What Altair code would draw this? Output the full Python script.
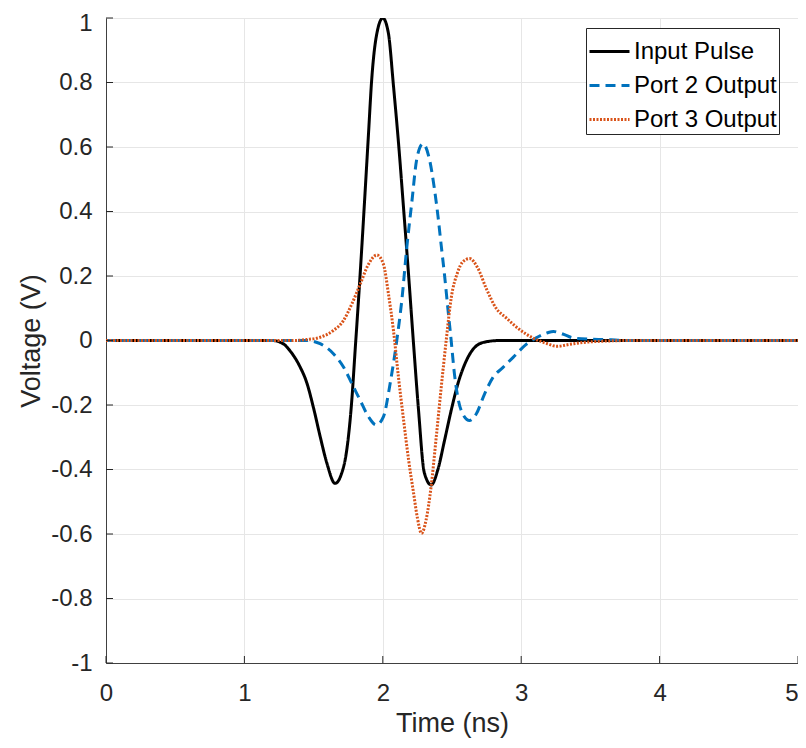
import altair as alt
import pandas as pd

series_names = ["Input Pulse", "Port 2 Output", "Port 3 Output"]

t_input = [0, 1.2, 1.28, 1.335, 1.40, 1.45, 1.50, 1.547, 1.595, 1.655, 1.704, 1.74, 1.776,
           1.80, 1.824, 1.848, 1.872, 1.896, 1.92, 1.952, 2.0, 2.04, 2.077, 2.113, 2.15,
           2.186, 2.222, 2.258, 2.30, 2.35, 2.398, 2.446, 2.494, 2.542, 2.602, 2.675,
           2.747, 2.843, 5]
v_input = [0, 0, -0.01, -0.035, -0.08, -0.13, -0.21, -0.297, -0.379, -0.443, -0.41, -0.338,
           -0.185, -0.031, 0.123, 0.287, 0.46, 0.636, 0.81, 0.94, 1.0, 0.954, 0.79, 0.615,
           0.41, 0.205, -0.01, -0.215, -0.41, -0.448, -0.40, -0.31, -0.217, -0.135, -0.064,
           -0.017, -0.004, 0, 0]

t_port2 = [0, 1.45, 1.547, 1.643, 1.716, 1.776, 1.836, 1.896, 1.952, 2.005, 2.053, 2.101,
           2.137, 2.173, 2.21, 2.246, 2.29, 2.337, 2.373, 2.398, 2.422, 2.446, 2.47, 2.494,
           2.518, 2.542, 2.578, 2.627, 2.675, 2.735, 2.795, 2.867, 2.94, 3.036, 3.108, 3.19,
           3.233, 3.3, 3.376, 3.5, 3.6, 3.7, 3.8, 5]
v_port2 = [0, 0, -0.01, -0.041, -0.082, -0.133, -0.185, -0.236, -0.262, -0.236, -0.133, 0,
           0.123, 0.287, 0.43, 0.564, 0.61, 0.562, 0.47, 0.388, 0.295, 0.203, 0.10, 0,
           -0.105, -0.176, -0.228, -0.248, -0.228, -0.166, -0.115, -0.084, -0.053, -0.012,
           0.008, 0.024, 0.028, 0.02, 0.008, 0.004, 0.003, 0.001, 0, 0]

t_port3 = [0, 1.35, 1.45, 1.547, 1.643, 1.716, 1.776, 1.836, 1.896, 1.957, 2.005, 2.041,
           2.077, 2.113, 2.15, 2.186, 2.222, 2.25, 2.28, 2.313, 2.349, 2.386, 2.422, 2.458,
           2.494, 2.542, 2.578, 2.627, 2.687, 2.747, 2.819, 2.892, 2.988, 3.084, 3.19,
           3.257, 3.35, 3.45, 3.6, 3.8, 5]
v_port3 = [0, 0, 0.003, 0.01, 0.031, 0.062, 0.113, 0.174, 0.236, 0.265, 0.236, 0.144,
           0.031, -0.113, -0.246, -0.369, -0.472, -0.55, -0.598, -0.556, -0.453, -0.30,
           -0.146, 0, 0.131, 0.213, 0.244, 0.254, 0.224, 0.162, 0.10, 0.07, 0.034, 0.008,
           -0.01, -0.018, -0.012, -0.006, -0.002, 0, 0]

x_ticks = [0, 1, 2, 3, 4, 5]
y_ticks = [-1, -0.8, -0.6, -0.4, -0.2, 0, 0.2, 0.4, 0.6, 0.8, 1]

rows = []
for name, ts, vs in [(series_names[0], t_input, v_input),
                     (series_names[1], t_port2, v_port2),
                     (series_names[2], t_port3, v_port3)]:
    for i, (t, v) in enumerate(zip(ts, vs)):
        rows.append({"series": name, "t": t, "v": v, "order": i})
df = pd.DataFrame(rows)

colors = ["#000000", "#0072BD", "#D95319"]
dashes = [[1, 0], [10, 6], [2, 1.5]]
widths = [3, 3, 2.5]

FONT = "Liberation Sans"
TXT = "#262626"
GRID = "#e6e6e6"

x_scale = alt.Scale(domain=[0, 5], nice=False)
y_scale = alt.Scale(domain=[-1, 1], nice=False)

legend_cfg = dict(title=None, orient="none", legendX=480, legendY=10,
                  symbolType="stroke", symbolSize=1600, symbolStrokeWidth=2.5,
                  labelFontSize=24, labelFont=FONT, labelColor="#000000",
                  strokeColor="#262626", fillColor="#ffffff",
                  padding=2, rowPadding=0, labelOffset=3, cornerRadius=0)

lines = alt.Chart(df).mark_line(interpolate="monotone", clip=True).encode(
    x=alt.X("t:Q", scale=x_scale,
            axis=alt.Axis(values=x_ticks, title="Time (ns)", labelExpr="datum.value + ''",
                          labelAlign={"condition": {"test": "datum.value == 5", "value": "right"},
                                      "value": "center"})),
    y=alt.Y("v:Q", scale=y_scale,
            axis=alt.Axis(values=y_ticks, title="Voltage (V)", labelExpr="datum.value + ''",
                          labelOffset={"condition": {"test": "datum.value == 1", "value": 5},
                                       "value": 0})),
    order="order:Q",
    color=alt.Color("series:N", scale=alt.Scale(domain=series_names, range=colors),
                    legend=alt.Legend(**legend_cfg)),
    strokeDash=alt.StrokeDash("series:N", scale=alt.Scale(domain=series_names, range=dashes),
                              legend=alt.Legend(**legend_cfg)),
    strokeWidth=alt.StrokeWidth("series:N", scale=alt.Scale(domain=series_names, range=widths),
                                legend=None),
)

xt = pd.DataFrame({"t": x_ticks})
yt = pd.DataFrame({"v": y_ticks})
H = 645
W = 692
TL = 7
tick_style = dict(color=TXT, strokeWidth=1)
xticks_bottom = alt.Chart(xt).mark_rule(**tick_style).encode(
    x=alt.X("t:Q", scale=x_scale), y=alt.value(H), y2=alt.value(H - TL))
yticks_left = alt.Chart(yt).mark_rule(**tick_style).encode(
    y=alt.Y("v:Q", scale=y_scale), x=alt.value(0), x2=alt.value(TL))

chart = alt.layer(lines, xticks_bottom, yticks_left).properties(
    width=W, height=H,
    autosize=alt.AutoSizeParams(type="none"),
    padding={"left": 98, "top": 10, "right": 0, "bottom": 77},
).configure_view(
    stroke=GRID, strokeWidth=1
).configure_axis(
    labelFont=FONT, titleFont=FONT, labelFontSize=24, titleFontSize=27,
    labelColor=TXT, titleColor=TXT, titleFontWeight="normal",
    grid=True, gridColor=GRID, gridWidth=1,
    domain=True, domainColor="#404040", ticks=False,
).configure_axisX(
    labelPadding=18, titlePadding=5,
).configure_axisY(
    labelPadding=14, titlePadding=5,
)

chart.save("out.html", embed_options={"renderer": "svg", "actions": False})
